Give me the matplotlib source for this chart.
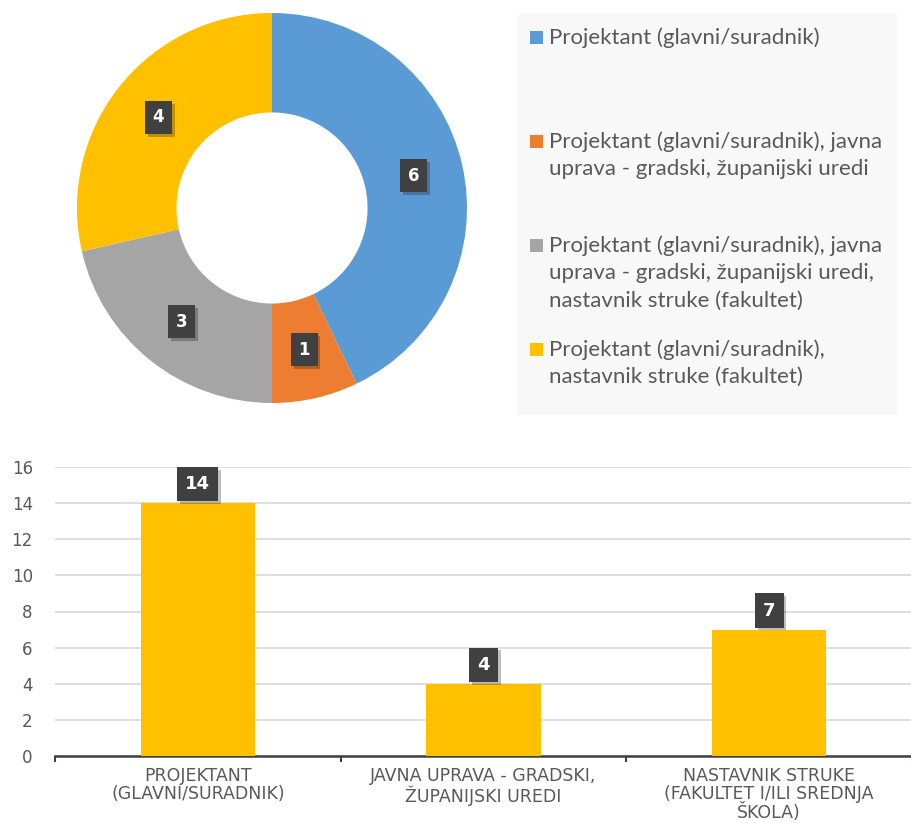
import matplotlib
matplotlib.use("Agg")
import matplotlib.pyplot as plt
from matplotlib.patches import Rectangle
import matplotlib.patheffects as pe
import numpy as np

# podaci - prstenasti grafikon
kategorije = [
    "Projektant (glavni/suradnik)",
    "Projektant (glavni/suradnik), javna\nuprava - gradski, županijski uredi",
    "Projektant (glavni/suradnik), javna\nuprava - gradski, županijski uredi,\nnastavnik struke (fakultet)",
    "Projektant (glavni/suradnik),\nnastavnik struke (fakultet)",
]
broj = [6, 1, 3, 4]
boje = ["#5B9BD5", "#ED7D31", "#A5A5A5", "#FFC000"]

# podaci - stupčasti grafikon
zanimanja = [
    "PROJEKTANT\n(GLAVNI/SURADNIK)",
    "JAVNA UPRAVA - GRADSKI,\nŽUPANIJSKI UREDI",
    "NASTAVNIK STRUKE\n(FAKULTET I/ILI SREDNJA\nŠKOLA)",
]
ukupno = [14, 4, 7]

W, H = 912, 823
plt.rcParams["font.family"] = ["Lato", "DejaVu Sans"]
tekst = "#595959"
tamno = "#404040"

fig = plt.figure(figsize=(W / 100, H / 100), dpi=100)


def fx(px):
    return px / W


def fy(py):
    return 1 - py / H


sjena = [pe.withSimplePatchShadow(offset=(2, -2), alpha=0.25, shadow_rgbFace="#000000")]


def oznaka(ax, x, y, s, velicina=12, **kw):
    t = ax.text(x, y, s, color="white", fontweight="bold", fontsize=velicina,
                ha="center", va="center", family=["DejaVu Sans"],
                bbox=dict(boxstyle="square,pad=0.45", facecolor=tamno, edgecolor="none"),
                **kw)
    t.get_bbox_patch().set_path_effects(sjena)
    return t


# prsten
cx, cy, r = 272, 208, 195
ax1 = fig.add_axes([fx(cx - 200), fy(cy + 200), fx(400), 400 / H])
ax1.pie(broj, colors=boje, startangle=90, counterclock=False, radius=1,
        wedgeprops=dict(width=0.51, edgecolor="none"))
ax1.set_xlim(-200 / r, 200 / r)
ax1.set_ylim(-200 / r, 200 / r)
ax1.set_aspect("equal")
ax1.axis("off")

kut = 90.0
suma = sum(broj)
for v in broj:
    sredina = kut - v / suma * 360 / 2
    kut -= v / suma * 360
    rr = 0.745
    oznaka(ax1, rr * np.cos(np.radians(sredina)), rr * np.sin(np.radians(sredina)), str(v))

# legenda
fig.patches.append(Rectangle((fx(517), fy(415)), fx(380), 401 / H,
                             transform=fig.transFigure, facecolor="#F8F8F8",
                             edgecolor="none", zorder=0))
for i, (k, b) in enumerate(zip(kategorije, boje)):
    y0 = 38 + 104 * i
    fig.patches.append(Rectangle((fx(530), fy(y0 + 6)), fx(13), 13 / H,
                                 transform=fig.transFigure, facecolor=b,
                                 edgecolor="none", zorder=2))
    fig.text(fx(549), fy(y0 - 11), k, ha="left", va="top", fontsize=16,
             color=tekst, linespacing=1.47)

# stupci
ax2 = fig.add_axes([fx(55), fy(756), fx(857), 289 / H])
x = np.arange(len(ukupno))
ax2.bar(x, ukupno, width=0.40, color="#FFC000", zorder=3)
ax2.set_xlim(-0.5, 2.48)
ax2.set_ylim(0, 16)
ax2.set_yticks(range(0, 17, 2))
ax2.yaxis.grid(True, color="#D9D9D9", linewidth=1.2, zorder=0)
ax2.set_axisbelow(True)
for s in ["top", "right", "left"]:
    ax2.spines[s].set_visible(False)
ax2.spines["bottom"].set_color(tamno)
ax2.spines["bottom"].set_linewidth(1.8)
ax2.set_xticks(x)
ax2.set_xticklabels(zanimanja, fontsize=12.5, color=tekst, linespacing=1.0)
ax2.set_xticks([-0.5, 0.5, 1.5, 2.5], minor=True)
ax2.tick_params(axis="x", which="major", length=0, pad=8)
ax2.tick_params(axis="x", which="minor", length=4, width=1.5, color=tamno)
ax2.tick_params(axis="y", length=0, pad=16, labelsize=12, labelcolor=tekst)
for lbl in ax2.get_yticklabels() + ax2.get_xticklabels():
    lbl.set_fontfamily(["DejaVu Sans"])

for xi, v in zip(x, ukupno):
    oznaka(ax2, xi, v + 1.05, str(v), velicina=13, clip_on=False)

fig.savefig("out.png", dpi=100, facecolor="white")
